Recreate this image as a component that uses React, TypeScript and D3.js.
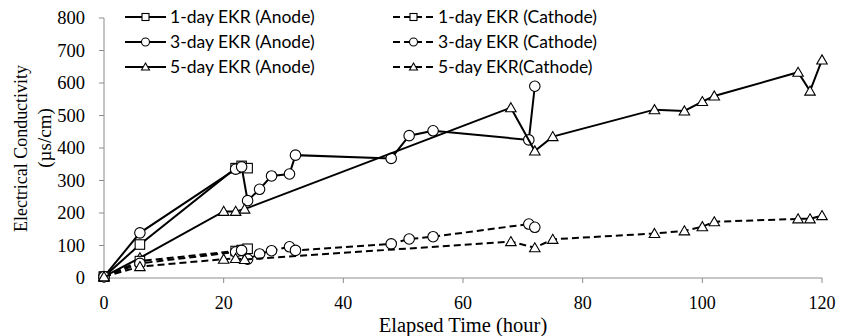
import React from "react";
import * as d3 from "d3";

const hours1 = [0, 6, 22, 23, 24];
const anode1 = [4, 103, 338, 345, 338];
const cathode1 = [4, 52, 83, 86, 90];

const hours3 = [0, 6, 22, 23, 24, 26, 28, 31, 32, 48, 51, 55, 71, 72];
const anode3 = [4, 139, 335, 342, 238, 273, 314, 320, 378, 368, 438, 453, 425, 590];
const cathode3 = [4, 45, 80, 85, 58, 74, 84, 96, 85, 105, 120, 127, 166, 156];

const hours5 = [0, 6, 20, 22, 23.5, 68, 72, 75, 92, 97, 100, 102, 116, 118, 120];
const anode5 = [4, 62, 205, 205, 212, 524, 391, 435, 518, 514, 543, 560, 633, 575, 671];
const cathode5 = [4, 35, 58, 60, 57, 112, 93, 119, 137, 145, 158, 173, 182, 182, 192];

const xTicks = [0, 20, 40, 60, 80, 100, 120];
const yTicks = [0, 100, 200, 300, 400, 500, 600, 700, 800];

type Marker = "square" | "circle" | "triangle";
interface Series {
  label: string;
  hours: number[];
  values: number[];
  marker: Marker;
  dashed: boolean;
}

const series: Series[] = [
  { label: "1-day EKR (Anode)", hours: hours1, values: anode1, marker: "square", dashed: false },
  { label: "3-day EKR (Anode)", hours: hours3, values: anode3, marker: "circle", dashed: false },
  { label: "5-day EKR (Anode)", hours: hours5, values: anode5, marker: "triangle", dashed: false },
  { label: "1-day EKR (Cathode)", hours: hours1, values: cathode1, marker: "square", dashed: true },
  { label: "3-day EKR (Cathode)", hours: hours3, values: cathode3, marker: "circle", dashed: true },
  { label: "5-day EKR(Cathode)", hours: hours5, values: cathode5, marker: "triangle", dashed: true },
];

const W = 841;
const H = 336;
const x = d3.scaleLinear().domain([0, 120]).range([104, 822]);
const y = d3.scaleLinear().domain([0, 800]).range([278, 18]);

function MarkerShape({ type, cx, cy, size }: { type: Marker; cx: number; cy: number; size: number }) {
  const s = size;
  if (type === "square")
    return <rect x={cx - s / 2} y={cy - s / 2} width={s} height={s} fill="white" stroke="#000" strokeWidth={1.1} />;
  if (type === "circle")
    return <circle cx={cx} cy={cy} r={s / 2 + 0.5} fill="white" stroke="#000" strokeWidth={1.1} />;
  const h = s * 0.85;
  return (
    <path
      d={`M${cx},${cy - h / 2 - 1} L${cx + s / 2 + 0.5},${cy + h / 2} L${cx - s / 2 - 0.5},${cy + h / 2} Z`}
      fill="white"
      stroke="#000"
      strokeWidth={1.1}
    />
  );
}

export default function App() {
  const line = d3
    .line<[number, number]>()
    .x((d) => x(d[0]))
    .y((d) => y(d[1]));

  const legendRows = [17, 42, 67];
  const legendCols = [
    { x1: 125, x2: 166, tx: 170 },
    { x1: 393, x2: 434, tx: 438 },
  ];

  return (
    <svg width={W} height={H} style={{ display: "block", position: "absolute", left: 0, top: 0 }}>
      <rect width={W} height={H} fill="white" />
      {/* axes */}
      <line x1={x(0)} x2={x(120)} y1={y(0)} y2={y(0)} stroke="#8c8c8c" strokeWidth={1} />
      <line x1={x(0)} x2={x(0)} y1={y(0)} y2={y(800)} stroke="#8c8c8c" strokeWidth={1} />
      {xTicks.map((t) => (
        <g key={"xt" + t}>
          <line x1={x(t)} x2={x(t)} y1={y(0)} y2={y(0) + 5} stroke="#8c8c8c" />
          <text
            x={x(t)}
            y={309}
            textAnchor="middle"
            fontFamily="Liberation Serif"
            fontSize={18}
            fill="#000"
          >
            {t}
          </text>
        </g>
      ))}
      {yTicks.map((t) => (
        <g key={"yt" + t}>
          <line x1={x(0) - 5} x2={x(0)} y1={y(t)} y2={y(t)} stroke="#8c8c8c" />
          <text
            x={85}
            y={y(t) + 6}
            textAnchor="end"
            fontFamily="Liberation Serif"
            fontSize={18.5}
            fill="#000"
          >
            {t}
          </text>
        </g>
      ))}
      {/* axis titles */}
      <text x={463} y={332} textAnchor="middle" fontFamily="Liberation Serif" fontSize={20.5} fill="#000">
        Elapsed Time (hour)
      </text>
      <text
        transform="translate(27,148.5) rotate(-90)"
        textAnchor="middle"
        fontFamily="Liberation Serif"
        fontSize={19}
        textLength={167}
        lengthAdjust="spacingAndGlyphs"
        fill="#000"
      >
        Electrical Conductivity
      </text>
      <text
        transform="translate(51,138) rotate(-90)"
        textAnchor="middle"
        fontFamily="Liberation Serif"
        fontSize={19}
        fill="#000"
      >
        (µs/cm)
      </text>
      {/* series */}
      {series.map((s, i) => {
        const pts = s.hours.map((h, j) => [h, s.values[j]] as [number, number]);
        return (
          <g key={"s" + i}>
            <path
              d={line(pts) || ""}
              fill="none"
              stroke="#000"
              strokeWidth={2}
              strokeDasharray={s.dashed ? "7,4" : undefined}
            />
            {pts.map((p, j) => (
              <MarkerShape key={j} type={s.marker} cx={x(p[0])} cy={y(p[1])} size={9.5} />
            ))}
          </g>
        );
      })}
      {/* legend */}
      {series.map((s, i) => {
        const col = legendCols[i < 3 ? 0 : 1];
        const ry = legendRows[i % 3];
        return (
          <g key={"lg" + i}>
            <line
              x1={col.x1}
              x2={col.x2}
              y1={ry}
              y2={ry}
              stroke="#000"
              strokeWidth={2}
              strokeDasharray={s.dashed ? "7,4" : undefined}
            />
            <MarkerShape type={s.marker} cx={(col.x1 + col.x2) / 2} cy={ry} size={7} />
            <text x={col.tx} y={ry + 6} fontFamily="Lato" fontSize={17.5} fill="#000">
              {s.label}
            </text>
          </g>
        );
      })}
    </svg>
  );
}
